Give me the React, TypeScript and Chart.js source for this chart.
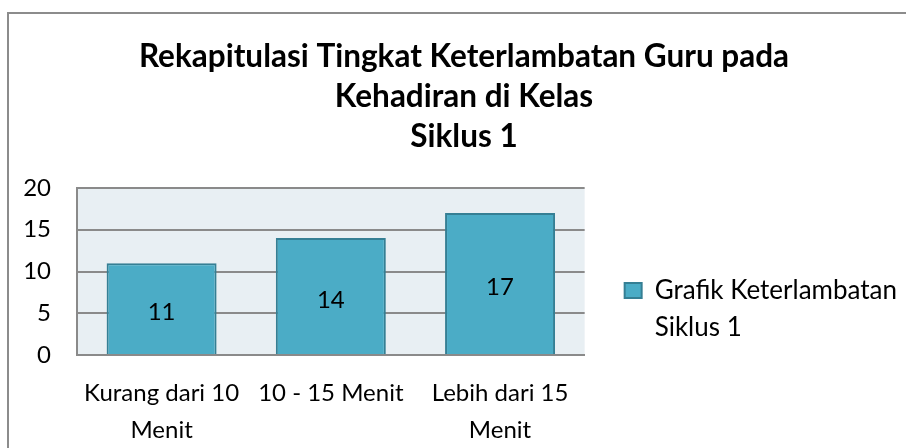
import React, { useEffect, useRef } from 'react';
import { Chart, registerables } from 'chart.js';

Chart.register(...registerables);

const categories: string[][] = [['Kurang dari 10', 'Menit'], ['10 - 15 Menit'], ['Lebih dari 15', 'Menit']];
const values: number[] = [11, 14, 17];
const seriesName: string[] = ['Grafik Keterlambatan', 'Siklus 1'];
const titleLines: string[] = ['Rekapitulasi Tingkat Keterlambatan Guru pada', 'Kehadiran di Kelas', 'Siklus 1'];
const yMin = 0;
const yMax = 20;
const yStep = 5;

const BAR = '#4BACC6';
const BAR_BORDER = '#357F94';
const PLOT_BG = '#E8EFF3';
const GRID = '#8A8A8A';
const FONT = 'Lato';

const plotBg = {
  id: 'plotBg',
  beforeDraw(chart: any) {
    const { ctx, chartArea } = chart;
    ctx.save();
    ctx.fillStyle = PLOT_BG;
    ctx.fillRect(chartArea.left, chartArea.top, chartArea.right - chartArea.left, chartArea.bottom - chartArea.top);
    ctx.restore();
  },
};

const valueLabels = {
  id: 'valueLabels',
  afterDatasetsDraw(chart: any) {
    const { ctx } = chart;
    const meta = chart.getDatasetMeta(0);
    ctx.save();
    ctx.font = `24px ${FONT}`;
    ctx.fillStyle = '#000';
    ctx.textAlign = 'center';
    ctx.textBaseline = 'middle';
    meta.data.forEach((bar: any, i: number) => {
      const { x, y, base } = bar.getProps(['x', 'y', 'base'], true);
      ctx.fillText(String(values[i]), x, (y + base) / 2 + 4);
    });
    ctx.restore();
  },
};

export default function App() {
  const ref = useRef<HTMLCanvasElement>(null);
  useEffect(() => {
    if (!ref.current) return;
    const chart = new Chart(ref.current, {
      type: 'bar',
      data: {
        labels: categories,
        datasets: [
          {
            label: seriesName.join(' '),
            data: values,
            backgroundColor: BAR,
            borderColor: BAR_BORDER,
            borderWidth: 2,
            barPercentage: 0.65,
            categoryPercentage: 1,
          },
        ],
      },
      options: {
        responsive: false,
        animation: false,
        layout: { padding: { left: 12, right: 16, top: 0, bottom: 0 } },
        plugins: {
          tooltip: { enabled: false },
          title: {
            display: true,
            text: titleLines,
            color: '#000',
            font: { family: FONT, size: 31.5, weight: 'bold', lineHeight: '40px' },
            padding: { top: 23, bottom: 31 },
          },
          legend: {
            display: true,
            position: 'right',
            maxWidth: 1000,
            title: { display: true, text: ' ', font: { size: 12, lineHeight: '19px' }, padding: { top: 136, bottom: 0 } },
            labels: {
              color: '#000',
              font: { family: FONT, size: 26, lineHeight: '37px' },
              boxWidth: 17,
              boxHeight: 15,
              padding: 40,
              generateLabels: () => [
                {
                  text: seriesName as any,
                  fillStyle: BAR,
                  strokeStyle: BAR_BORDER,
                  fontColor: '#000',
                  lineWidth: 2,
                  hidden: false,
                  datasetIndex: 0,
                },
              ],
            },
          },
        },
        scales: {
          x: {
            grid: { display: false, drawTicks: false },
            border: { display: true, color: GRID, width: 2 },
            ticks: { color: '#000', font: { family: FONT, size: 24, lineHeight: '37px' }, padding: 20, maxRotation: 0, autoSkip: false },
            afterFit: (s: any) => { s.height = 105; },
          },
          y: {
            min: yMin,
            max: yMax,
            grid: { color: GRID, lineWidth: 2, drawTicks: false },
            border: { display: true, color: GRID, width: 2 },
            ticks: { stepSize: yStep, color: '#000', font: { family: FONT, size: 24 }, padding: 26 },
            afterFit: (s: any) => { s.width = 56; },
          },
        },
      },
      plugins: [plotBg, valueLabels],
    });
    return () => chart.destroy();
  }, []);

  return (
    <div style={{ position: 'fixed', left: 0, top: 0, width: 906, height: 448, overflow: 'hidden', background: '#fff' }}>
      <div style={{ position: 'absolute', left: 7, top: 12, width: 914, height: 446, border: '2px solid #8C8C8C' }}>
        <canvas ref={ref} width={914} height={446} style={{ display: 'block' }} />
      </div>
    </div>
  );
}
